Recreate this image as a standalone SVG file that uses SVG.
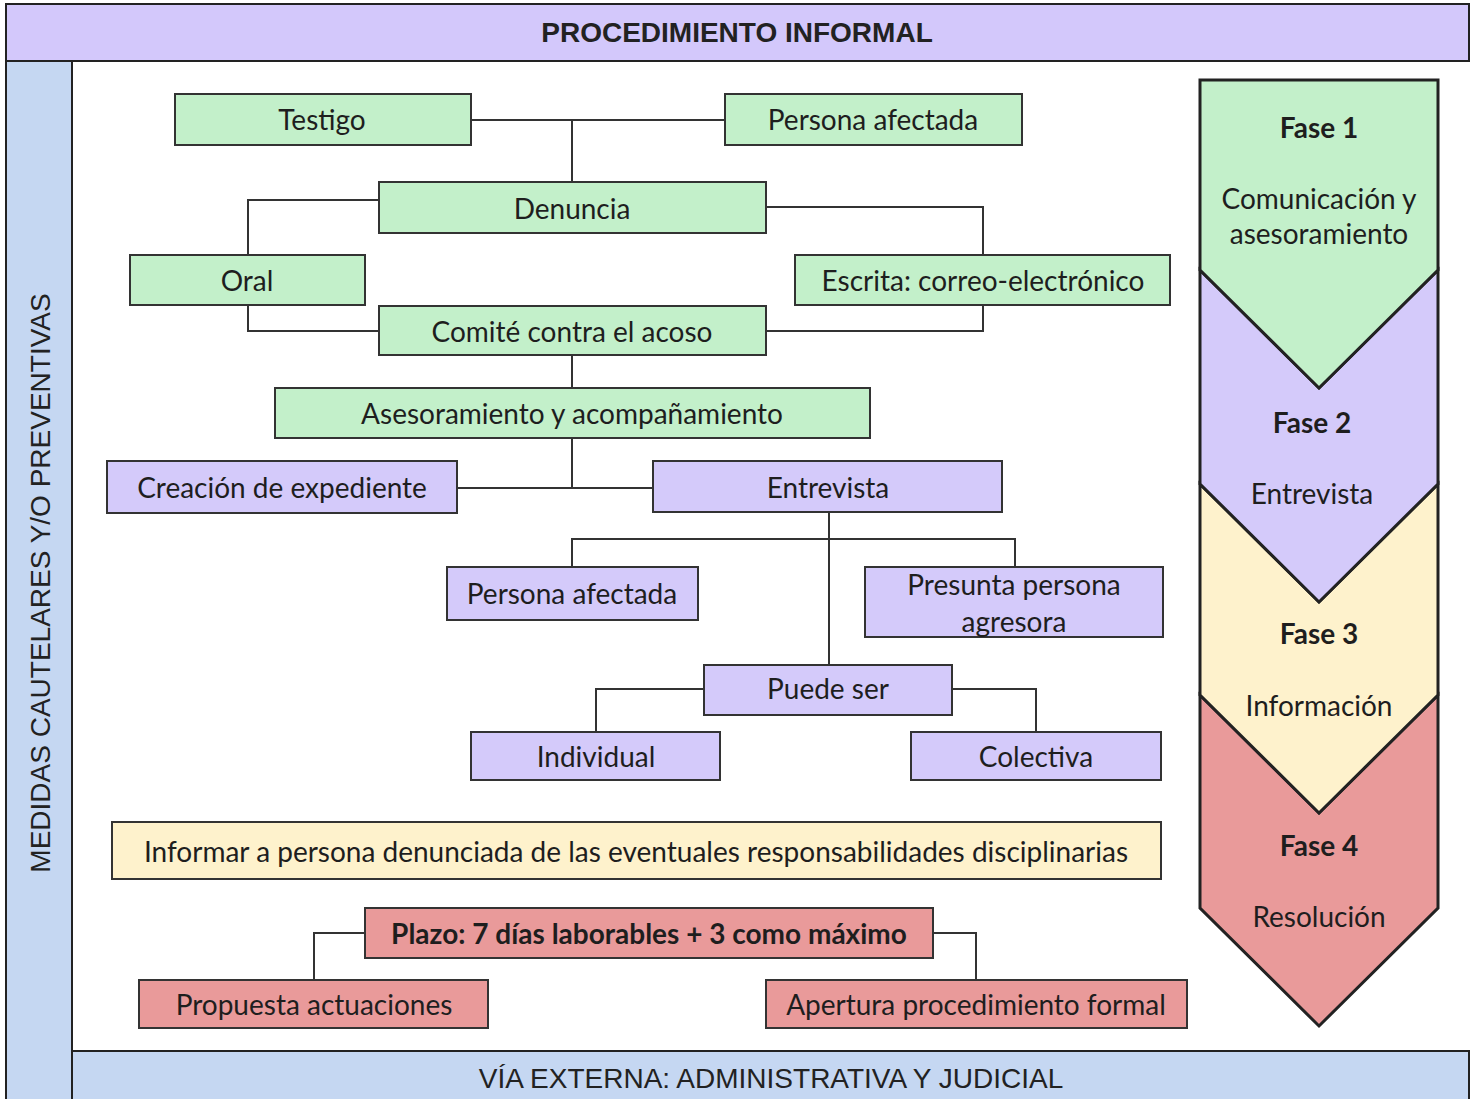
<svg xmlns="http://www.w3.org/2000/svg" width="1477" height="1099" viewBox="0 0 1477 1099">
<style>
.band{stroke:#222;stroke-width:2}
.node{stroke:#333;stroke-width:2}
.g{fill:#c3f0ca}
.p{fill:#d4cafa}
.y{fill:#fef2cc}
.r{fill:#e99a9a}
.t{font-family:Lato,"Open Sans",sans-serif;font-size:28px;fill:#1e1e1e;text-anchor:middle}
.b{font-weight:bold}
.a{font-family:"Liberation Sans",Arial,sans-serif;font-size:28px;fill:#222;text-anchor:middle}
.conn{fill:none;stroke:#333;stroke-width:2}
.chev{stroke:#222;stroke-width:3;stroke-linejoin:miter}
</style>
<rect x="0" y="0" width="1477" height="1099" fill="#fff"/>
<g id="header">
<rect class="band" x="6" y="4" width="1463" height="57" fill="#d3c8fb"/>
<text class="a b" x="737" y="42">PROCEDIMIENTO INFORMAL</text>
</g>
<g id="sidebar">
<rect class="band" x="6" y="61" width="66" height="1045" fill="#c5d7f2"/>
<text class="a" x="50" y="583" transform="rotate(-90 50 583)">MEDIDAS CAUTELARES Y/O PREVENTIVAS</text>
</g>
<g id="footer">
<rect class="band" x="72" y="1051" width="1397" height="55" fill="#c5d7f2"/>
<text class="a" x="771" y="1088">VÍA EXTERNA: ADMINISTRATIVA Y JUDICIAL</text>
</g>
<g id="connectors">
<path class="conn" d="M471 120H725M572 120V182"/>
<path class="conn" d="M379 200H248V255M766 207H983V255"/>
<path class="conn" d="M248 305V331H379M983 305V331H766"/>
<path class="conn" d="M572 355V388"/>
<path class="conn" d="M572 438V488M457 488H653"/>
<path class="conn" d="M829 512V665M572 567V539H1015V567"/>
<path class="conn" d="M704 689H596V732M952 689H1036V732"/>
<path class="conn" d="M365 933H314V980M933 933H976V980"/>
</g>
<g id="testigo"><rect class="node g" x="175" y="94" width="296" height="51"/><text class="t" x="322" y="130">Testigo</text></g>
<g id="persona-afectada-1"><rect class="node g" x="725" y="94" width="297" height="51"/><text class="t" x="873" y="130">Persona afectada</text></g>
<g id="denuncia"><rect class="node g" x="379" y="182" width="387" height="51"/><text class="t" x="572" y="219">Denuncia</text></g>
<g id="oral"><rect class="node g" x="130" y="255" width="235" height="50"/><text class="t" x="247" y="291">Oral</text></g>
<g id="escrita"><rect class="node g" x="795" y="255" width="375" height="50"/><text class="t" x="983" y="291">Escrita: correo-electrónico</text></g>
<g id="comite"><rect class="node g" x="379" y="306" width="387" height="49"/><text class="t" x="572" y="342">Comité contra el acoso</text></g>
<g id="asesoramiento"><rect class="node g" x="275" y="388" width="595" height="50"/><text class="t" x="572" y="424">Asesoramiento y acompañamiento</text></g>
<g id="creacion"><rect class="node p" x="107" y="461" width="350" height="52"/><text class="t" x="282" y="498">Creación de expediente</text></g>
<g id="entrevista"><rect class="node p" x="653" y="461" width="349" height="51"/><text class="t" x="828" y="498">Entrevista</text></g>
<g id="persona-afectada-2"><rect class="node p" x="447" y="567" width="251" height="53"/><text class="t" x="572" y="604">Persona afectada</text></g>
<g id="presunta"><rect class="node p" x="865" y="567" width="298" height="70"/><text class="t" x="1014" y="595">Presunta persona</text><text class="t" x="1014" y="632">agresora</text></g>
<g id="puede-ser"><rect class="node p" x="704" y="665" width="248" height="50"/><text class="t" x="828" y="699">Puede ser</text></g>
<g id="individual"><rect class="node p" x="471" y="732" width="249" height="48"/><text class="t" x="596" y="767">Individual</text></g>
<g id="colectiva"><rect class="node p" x="911" y="732" width="250" height="48"/><text class="t" x="1036" y="767">Colectiva</text></g>
<g id="informar"><rect class="node y" x="112" y="822" width="1049" height="57"/><text class="t" x="636" y="862">Informar a persona denunciada de las eventuales responsabilidades disciplinarias</text></g>
<g id="plazo"><rect class="node r" x="365" y="908" width="568" height="50" stroke-width="3"/><text class="t b" x="649" y="944">Plazo: 7 días laborables + 3 como máximo</text></g>
<g id="propuesta"><rect class="node r" x="139" y="980" width="349" height="48"/><text class="t" x="314" y="1015">Propuesta actuaciones</text></g>
<g id="apertura"><rect class="node r" x="766" y="980" width="421" height="48"/><text class="t" x="976" y="1015">Apertura procedimiento formal</text></g>
<g id="fase4"><polygon class="chev r" points="1200,695 1319,813 1438,695 1438,908 1319,1026 1200,908"/><text class="t b" x="1319" y="856">Fase 4</text><text class="t" x="1319" y="927">Resolución</text></g>
<g id="fase3"><polygon class="chev y" points="1200,484 1319,602 1438,484 1438,695 1319,813 1200,695"/><text class="t b" x="1319" y="644">Fase 3</text><text class="t" x="1319" y="716">Información</text></g>
<g id="fase2"><polygon class="chev p" points="1200,270 1319,388 1438,270 1438,484 1319,602 1200,484"/><text class="t b" x="1312" y="433">Fase 2</text><text class="t" x="1312" y="504">Entrevista</text></g>
<g id="fase1"><polygon class="chev g" points="1200,80 1438,80 1438,270 1319,388 1200,270"/><text class="t b" x="1319" y="138">Fase 1</text><text class="t" x="1319" y="209">Comunicación y</text><text class="t" x="1319" y="244">asesoramiento</text></g>
</svg>
